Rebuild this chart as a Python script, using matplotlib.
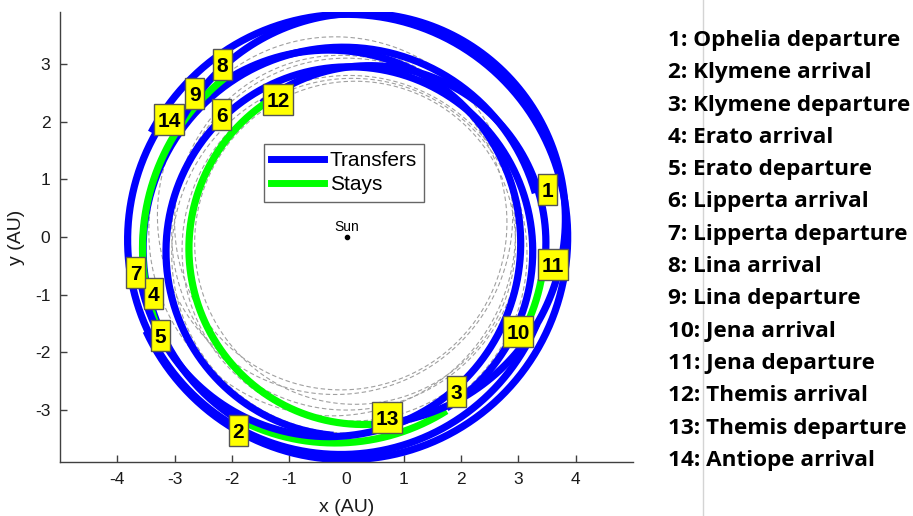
import numpy as np
import matplotlib
matplotlib.use("Agg")
import matplotlib.pyplot as plt
from matplotlib.lines import Line2D
from matplotlib.patches import Rectangle
import matplotlib.transforms as mtransforms

# ---------------- data ----------------
# trajectory legs, chronological; each is an arc of an (offset) orbit circle
seg_kind = ["T", "S", "T", "S", "T", "S", "T", "S", "T", "S", "T", "S", "T"]
seg_cx   = [-0.06, -0.20, 0.05, 0.20, 0.00, 0.20, -0.31, 0.20, -0.10, 0.10, 0.41, 0.30, 0.25]
seg_cy   = [-0.20, 0.10, -0.25, -0.20, 0.00, -0.20, -0.11, -0.20, -0.05, -0.10, -0.10, -0.20, 0.31]
seg_r    = [3.49, 3.67, 3.20, 3.76, 3.86, 3.76, 3.35, 3.76, 3.72, 3.36, 3.07, 3.05, 3.57]
seg_a0   = [16, 245, 302, 189, 205, 134, 185, 127, 142, -23, -11, 122, 273]
seg_a1   = [241, 302, 625, 200, 512, 189, 481, 135, 337, -11, 128, 273, 512]

# asteroid orbits (grey dashed)
orb_cx = [-0.20, 0.00, 0.10, -0.25, 0.15, -0.10, 0.05]
orb_cy = [0.37, 0.05, -0.22, 0.10, -0.10, 0.25, -0.30]
orb_r  = [3.10, 3.05, 2.97, 3.20, 2.80, 2.90, 3.10]

# event labels
event_id = [str(i) for i in range(1, 15)]
event_x = [3.50, -1.89, 1.92, -3.37, -3.25, -2.18, -3.68, -2.17, -2.65, 3.00, 3.60, -1.19, 0.71, -3.10]
event_y = [0.82, -3.36, -2.67, -0.98, -1.70, 2.13, -0.61, 2.99, 2.48, -1.63, -0.47, 2.39, -3.13, 2.04]
event_names = ["Ophelia departure", "Klymene arrival", "Klymene departure",
               "Erato arrival", "Erato departure", "Lipperta arrival",
               "Lipperta departure", "Lina arrival", "Lina departure",
               "Jena arrival", "Jena departure", "Themis arrival",
               "Themis departure", "Antiope arrival"]

x_ticks = [-4, -3, -2, -1, 0, 1, 2, 3, 4]
y_ticks = [-3, -2, -1, 0, 1, 2, 3]

# ---------------- plot ----------------
plt.rcParams['font.family'] = ['Liberation Sans', 'DejaVu Sans']
plt.rcParams['axes.unicode_minus'] = False
fig = plt.figure(figsize=(9.13, 5.16), dpi=100)
ax = fig.add_axes([60/913, 1-462/516, 573/913, 450/516])

BLUE = "#0000FF"
GREEN = "#00FF00"

for cx, cy, r in zip(orb_cx, orb_cy, orb_r):
    t = np.radians(np.linspace(0, 360, 400))
    ax.plot(cx + r*np.cos(t), cy + r*np.sin(t), color="#a0a0a0", lw=0.8,
            dashes=(4, 2.5), zorder=1)

for k, cx, cy, r, a0, a1 in zip(seg_kind, seg_cx, seg_cy, seg_r, seg_a0, seg_a1):
    t = np.radians(np.linspace(a0, a1, 300))
    ax.plot(cx + r*np.cos(t), cy + r*np.sin(t),
            color=BLUE if k == "T" else GREEN, lw=5.2,
            solid_capstyle="butt", zorder=2)

for lab, x, y in zip(event_id, event_x, event_y):
    w = 0.19 if len(lab) == 1 else 0.30
    h = 0.31
    tr = fig.dpi_scale_trans + mtransforms.ScaledTranslation(x, y, ax.transData)
    ax.add_patch(Rectangle((-w/2, -h/2), w, h, transform=tr, fc="#FFFF00",
                           ec="#555555", lw=1, zorder=5, clip_on=False))
    ax.text(x, y, lab, ha="center", va="center_baseline", fontsize=15,
            fontweight="bold", color="black", zorder=6)

ax.plot([0], [0], "o", color="black", ms=3, zorder=4)
ax.text(0, 0.05, "Sun", ha="center", va="bottom", fontsize=10, zorder=4)

ax.set_xlim(-5, 5)
ax.set_ylim(-3.9, 3.9)
ax.set_xticks(x_ticks)
ax.set_yticks(y_ticks)
ax.tick_params(direction="in", length=5, width=1, colors="#404040",
               labelsize=12.5, labelcolor="#1a1a1a", pad=7)
for s in ["top", "right"]:
    ax.spines[s].set_visible(False)
for s in ["left", "bottom"]:
    ax.spines[s].set_color("#404040")
    ax.spines[s].set_linewidth(1)
ax.set_xlabel("x (AU)", fontsize=14, color="#1a1a1a", labelpad=9)
ax.set_ylabel("y (AU)", fontsize=14, color="#1a1a1a", labelpad=7)

handles = [Line2D([], [], color=BLUE, lw=5), Line2D([], [], color=GREEN, lw=5)]
leg = ax.legend(handles, ["Transfers", "Stays"], loc="upper left",
                bbox_to_anchor=((264-60)/573, (462-144)/450), borderaxespad=0,
                fontsize=15, frameon=True, fancybox=False, shadow=False,
                handlelength=2.55, handletextpad=0.25, borderpad=0.35,
                labelspacing=0.25)
leg.get_frame().set_edgecolor("#404040")
leg.get_frame().set_linewidth(1)
leg.set_zorder(7)

fig.add_artist(Line2D([703/913, 703/913], [0, 1], color="#d4d4d4", lw=1))

for i, name in enumerate(event_names):
    fig.text(668/913, 1 - (46 + 32.3*i)/516, f"{i+1}: {name}",
             family=["Open Sans", "DejaVu Sans"], fontweight="bold", fontsize=16.2,
             va="baseline", ha="left", color="black")

fig.savefig("out.png", dpi=100)
